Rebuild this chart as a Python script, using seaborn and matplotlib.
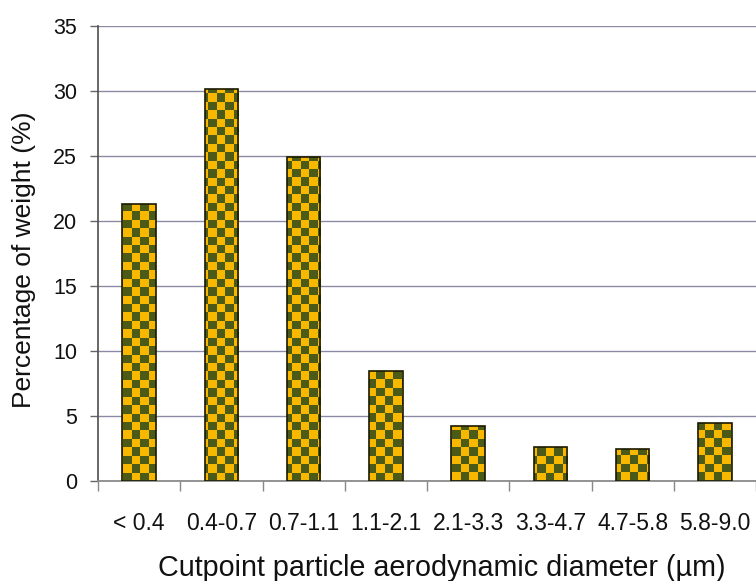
import numpy as np
import matplotlib
matplotlib.use("Agg")
import matplotlib.pyplot as plt
import seaborn as sns
from matplotlib.colors import ListedColormap

# Values
size_bins = ["< 0.4", "0.4-0.7", "0.7-1.1", "1.1-2.1", "2.1-3.3", "3.3-4.7", "4.7-5.8", "5.8-9.0"]
weight_pct = [21.3, 30.15, 24.9, 8.5, 4.2, 2.6, 2.5, 4.5]
y_ticks = [0, 5, 10, 15, 20, 25, 30, 35]

sns.set_theme(style="white")
plt.rcParams["font.family"] = ["Liberation Sans", "DejaVu Sans"]

fig = plt.figure(figsize=(7.56, 5.81), dpi=100)
ax = fig.add_axes([98 / 756, 100 / 581, 658 / 756, 455 / 581])

sns.barplot(x=size_bins, y=weight_pct, width=0.41, ax=ax, color="#f7b500",
            edgecolor="#1a1a00", linewidth=1.2)

# checkerboard fill, clipped to each bar
checker = np.indices((54, 78)).sum(axis=0) % 2
cmap = ListedColormap(["#4b5a16", "#f9b800"])
for bar in ax.patches:
    bar.set_facecolor("none")
    bar.set_zorder(3)
    im = ax.imshow(checker, cmap=cmap, extent=(-0.5, 7.5, 0, 35), origin="upper",
                   aspect="auto", interpolation="nearest", zorder=2)
    im.set_clip_path(bar)

ax.set_xlim(-0.5, 7.5)
ax.set_ylim(0, 35)
ax.set_yticks(y_ticks)
ax.set_xticks(np.arange(-0.5, 8, 1), minor=True)

ax.yaxis.grid(True, color="#8a8aa6", linewidth=1)
ax.set_axisbelow(True)

ax.tick_params(axis="y", which="major", left=True, length=6, width=1, color="#666666",
               labelsize=15.5, pad=9, labelcolor="#111111")
ax.tick_params(axis="x", which="major", bottom=False, length=0, labelsize=16.5, pad=22,
               labelcolor="#111111")
ax.tick_params(axis="x", which="minor", bottom=True, length=7, width=1, color="#888888")

for side in ["top", "right"]:
    ax.spines[side].set_visible(False)
ax.spines["left"].set_color("#555555")
ax.spines["bottom"].set_color("#888888")

ax.set_xlabel("Cutpoint particle aerodynamic diameter (µm)", fontsize=20.7, labelpad=14,
              color="#111111")
ax.set_ylabel("Percentage of weight (%)", fontsize=19, labelpad=12, color="#111111")
ax.xaxis.label.set_x(0.523)
ax.yaxis.label.set_y(0.486)

fig.savefig("out.png", dpi=100)
